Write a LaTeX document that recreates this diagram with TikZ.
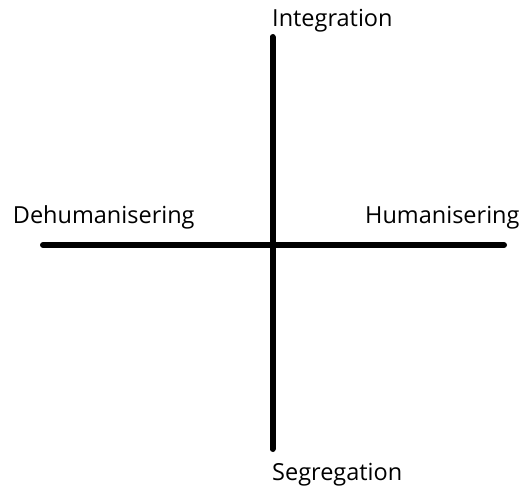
\documentclass[tikz,border=0pt]{standalone}
\usepackage{fontspec}
\setmainfont{Open Sans}
\begin{document}
\begin{tikzpicture}[x=1pt,y=-1pt,
  axis/.style={line width=6pt,line cap=round,black},
  lbl/.style={inner sep=0pt,anchor=base west,font=\fontsize{23.5}{28}\selectfont}]
\useasboundingbox (0,0) rectangle (521,485);
\coordinate (top) at (272.5,37);
\coordinate (bottom) at (272.5,449);
\coordinate (left) at (43,245);
\coordinate (right) at (504,245);
\draw[axis] (left) -- (right);
\draw[axis] (top) -- (bottom);
\node[lbl] (int) at (272,26) {Integration};
\node[lbl] (deh) at (12.7,223) {Dehumanisering};
\node[lbl] (hum) at (365,223) {Humanisering};
\node[lbl] (seg) at (272,480) {Segregation};
\end{tikzpicture}
\end{document}
